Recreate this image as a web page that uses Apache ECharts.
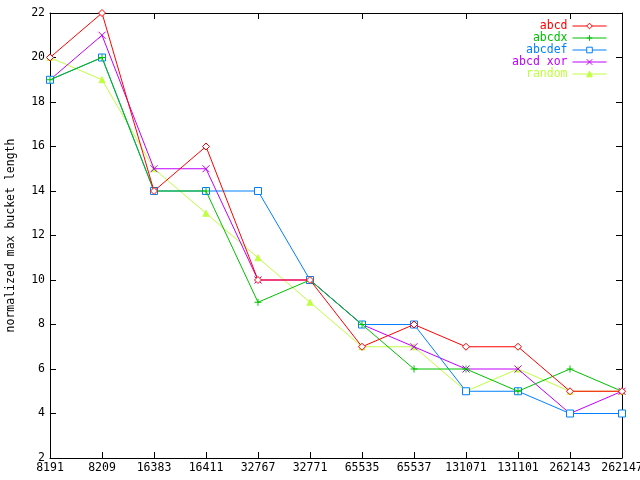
<!DOCTYPE html>
<html>
<head>
<meta charset="utf-8">
<script src="https://cdn.jsdelivr.net/npm/echarts@6/dist/echarts.min.js"></script>
<style>html,body{margin:0;padding:0;background:#fff}#c{width:640px;height:480px}</style>
</head>
<body>
<div id="c"></div>
<script>
var categories = ['8191','8209','16383','16411','32767','32771','65535','65537','131071','131101','262143','262147'];
var abcd    = [20,22,14,16,10,10,7,8,7,7,5,5];
var abcdx   = [19,20,14,14,9,10,8,6,6,5,6,5];
var abcdef  = [19,20,14,14,14,10,8,8,5,5,4,4];
var abcdXor = [19,21,15,15,10,10,8,7,6,6,4,5];
var random  = [20,19,15,13,11,9,7,7,5,6,5,5];
var seriesNames = ['abcd','abcdx','abcdef','abcd xor','random'];
var yTicks = [2,4,6,8,10,12,14,16,18,20,22];

var colors = ['#ff0000','#00c000','#0080ff','#c000ff','#c0ff40'];
var symbols = ['diamond','path://M5,0L5,10M0,5L10,5','rect','path://M0,0L10,10M10,0L0,10','triangle'];
var fills = ['#ffffff','none','#ffffff','none',null];
var datas = [abcd, abcdx, abcdef, abcdXor, random];
var font = 'DejaVu Sans Mono';

var series = datas.map(function(d,i){
  return {
    name: seriesNames[i], type:'line', data:d,
    xAxisIndex:0, yAxisIndex:0,
    symbol: symbols[i], symbolSize: i===4?6:7, showSymbol:true,
    lineStyle:{color:colors[i], width:1},
    itemStyle:{color: fills[i] || colors[i], borderColor: colors[i], borderWidth:1},
    emphasis:{disabled:true}, animation:false, z: 10 - i
  };
});

var chart = echarts.init(document.getElementById('c'), null, {renderer:'canvas'});
chart.setOption({
  backgroundColor:'#ffffff',
  animation:false,
  grid:{left:50, right:18, top:13, bottom:22, containLabel:false, outerBoundsMode:'none'},
  legend:{
    orient:'vertical', right:28, top:15, align:'right',
    itemWidth:34, itemHeight:7, itemGap:0,
    lineStyle:{width:1},
    itemStyle:{borderWidth:1},
    data: seriesNames.map(function(n,i){return {name:n, textStyle:{color:colors[i]}};}),
    textStyle:{fontFamily:font, fontSize:11.5, lineHeight:11},
    selectedMode:false
  },
  xAxis:[{
    type:'category', data:categories, boundaryGap:false, position:'bottom',
    axisLine:{lineStyle:{color:'#000', width:1}},
    axisTick:{inside:true, length:6, alignWithLabel:true, lineStyle:{color:'#000'}},
    axisLabel:{interval:0, color:'#000', fontFamily:font, fontSize:11.5, margin:4},
    splitLine:{show:false}
  },{
    type:'category', data:categories, boundaryGap:false, position:'top',
    axisLine:{lineStyle:{color:'#000', width:1}},
    axisTick:{inside:true, length:6, lineStyle:{color:'#000'}},
    axisLabel:{show:false}, splitLine:{show:false}
  }],
  yAxis:[{
    type:'value', min:yTicks[0], max:yTicks[yTicks.length-1], interval:2, position:'left',
    name:'normalized max bucket length', nameLocation:'middle', nameGap:33, nameRotate:90,
    nameTextStyle:{color:'#000', fontFamily:font, fontSize:11.5},
    axisLine:{show:true, lineStyle:{color:'#000', width:1}},
    axisTick:{show:true, inside:true, length:6, lineStyle:{color:'#000'}},
    axisLabel:{color:'#000', fontFamily:font, fontSize:11.5, margin:5},
    splitLine:{show:false}
  },{
    type:'value', min:yTicks[0], max:yTicks[yTicks.length-1], interval:2, position:'right',
    axisLine:{show:true, lineStyle:{color:'#000', width:1}},
    axisTick:{show:true, inside:true, length:6, lineStyle:{color:'#000'}},
    axisLabel:{show:false}, splitLine:{show:false}
  }],
  series: series
});
</script>
</body>
</html>
